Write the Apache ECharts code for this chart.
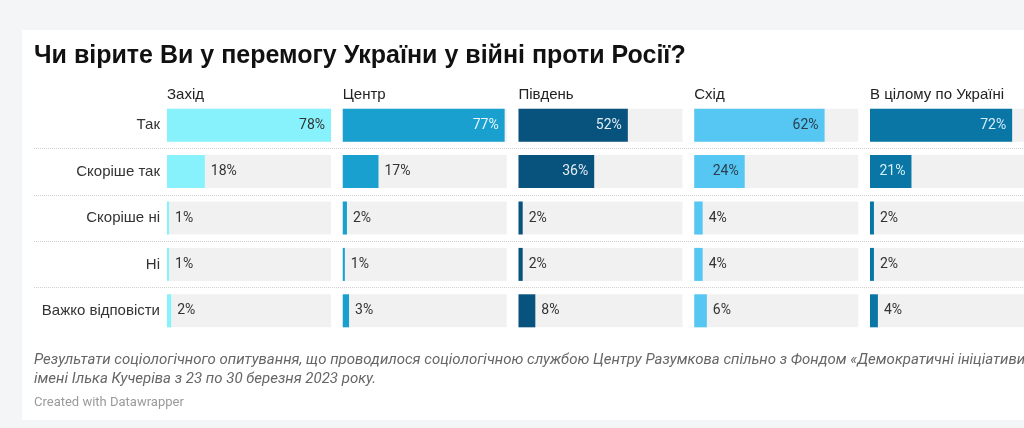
<!DOCTYPE html>
<html>
<head>
<meta charset="utf-8">
<script src="https://cdn.jsdelivr.net/npm/echarts@6/dist/echarts.min.js"></script>
<style>
  html, body { margin:0; padding:0; width:1024px; height:428px; background:#f4f5f7; overflow:hidden; }
  #card { position:absolute; left:22px; top:30px; width:1010px; height:390px; background:#ffffff; }
  #chart { position:absolute; left:0; top:0; width:1024px; height:428px; }
</style>
</head>
<body>
<div id="card"></div>
<div id="chart"></div>
<script>
// ---- data ----
const titleText = 'Чи вірите Ви у перемогу України у війні проти Росії?';
const categories = ['Так', 'Скоріше так', 'Скоріше ні', 'Ні', 'Важко відповісти'];
const regions = ['Захід', 'Центр', 'Південь', 'Схід', 'В цілому по Україні'];
const zakhid  = [78, 18, 1, 1, 2];
const tsentr  = [77, 17, 2, 1, 3];
const pivden  = [52, 36, 2, 2, 8];
const skhid   = [62, 24, 4, 4, 6];
const ukraina = [72, 21, 2, 2, 4];
const footer1 = 'Результати соціологічного опитування, що проводилося соціологічною службою Центру Разумкова спільно з Фондом «Демократичні ініціативи»';
const footer2 = 'імені Ілька Кучеріва з 23 по 30 березня 2023 року.';
const credit = 'Created with Datawrapper';

// ---- style ----
const seriesValues = [zakhid, tsentr, pivden, skhid, ukraina];
const barColors = ['#88f2fc', '#1aa0cf', '#08537d', '#56c7f2', '#0a76a6'];
const insideLabelColors = ['#333333', '#e8f6fc', '#e3edf3', '#2a3f4f', '#d4eef8'];
const panelLeft0 = 167, panelStep = 175.75, panelWidth = 164;
const gridTop = 102, gridHeight = 232;
const rowH = gridHeight / categories.length;
const axisMax = 78;

const chart = echarts.init(document.getElementById('chart'), null, { renderer: 'canvas' });

const grids = [], xAxes = [], yAxes = [], series = [], titles = [];

titles.push({
  text: titleText, left: 34, top: 44, padding: 0,
  textStyle: { fontFamily: 'Liberation Sans', fontWeight: 'bold', fontSize: 25, color: '#111111' }
});

// separator grid: lines only between rows
const nSep = categories.length - 1;
grids.push({ left: 34, width: 1000, top: gridTop + rowH, height: rowH * (nSep - 1) });
xAxes.push({ gridIndex: 0, type: 'value', show: false, min: 0, max: 1 });
yAxes.push({
  gridIndex: 0, type: 'value', min: 0, max: nSep - 1, interval: 1,
  axisLine: { show: false }, axisTick: { show: false }, axisLabel: { show: false },
  splitLine: { show: true, lineStyle: { type: 'dotted', color: '#cfcfcf', width: 1 } }
});

regions.forEach(function (name, i) {
  const gi = i + 1;
  const left = panelLeft0 + i * panelStep;
  grids.push({ left: left, width: panelWidth, top: gridTop, height: gridHeight });
  xAxes.push({ gridIndex: gi, type: 'value', min: 0, max: axisMax, show: false });
  yAxes.push({
    gridIndex: gi, type: 'category', data: categories, inverse: true,
    axisLine: { show: false }, axisTick: { show: false },
    axisLabel: { show: i === 0, margin: 7, color: '#333333', fontSize: 15, fontFamily: 'Liberation Sans' },
    splitLine: { show: false }
  });
  titles.push({
    text: name, left: left, top: 87, padding: 0,
    textStyle: { fontFamily: 'Liberation Sans', fontWeight: 'normal', fontSize: 15, color: '#222222' }
  });
  const vals = seriesValues[i];
  series.push({
    type: 'bar', xAxisIndex: gi, yAxisIndex: gi,
    barWidth: 33,
    showBackground: true,
    backgroundStyle: { color: '#f1f1f1' },
    itemStyle: { color: barColors[i] },
    data: vals.map(function (v) {
      const inside = v >= 20;
      return {
        value: v,
        label: {
          show: true,
          position: inside ? 'insideRight' : 'right',
          distance: 6,
          formatter: '{c}%',
          color: inside ? insideLabelColors[i] : '#333333',
          fontFamily: 'Roboto', fontSize: 14
        }
      };
    })
  });
});

titles.push({
  text: footer1, left: 34, top: 353, padding: 0,
  textStyle: { fontFamily: 'Roboto', fontStyle: 'italic', fontWeight: 'normal', fontSize: 15, color: '#666666' }
});
titles.push({
  text: footer2, left: 34, top: 372, padding: 0,
  textStyle: { fontFamily: 'Roboto', fontStyle: 'italic', fontWeight: 'normal', fontSize: 15, color: '#666666' }
});
titles.push({
  text: credit, left: 34, top: 396, padding: 0,
  textStyle: { fontFamily: 'Roboto', fontWeight: 'normal', fontSize: 13, color: '#9a9a9a' }
});

chart.setOption({
  animation: false,
  title: titles,
  grid: grids,
  xAxis: xAxes,
  yAxis: yAxes,
  series: series
});
</script>
</body>
</html>
